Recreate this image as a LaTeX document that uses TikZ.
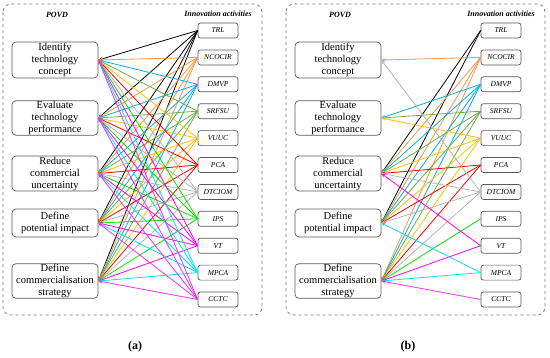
\documentclass[tikz,border=0pt]{standalone}
\usepackage{fontspec}
\setmainfont{Liberation Serif}
\usetikzlibrary{arrows.meta}
\definecolor{c-TRL}{RGB}{0,0,0}
\definecolor{c-NCOCIR}{RGB}{247,150,70}
\definecolor{c-DMVP}{RGB}{0,176,240}
\definecolor{c-SRFSU}{RGB}{112,173,71}
\definecolor{c-VUUC}{RGB}{255,192,0}
\definecolor{c-PCA}{RGB}{255,0,0}
\definecolor{c-DTCIOM}{RGB}{180,180,180}
\definecolor{c-IPS}{RGB}{0,230,0}
\definecolor{c-VT}{RGB}{255,0,255}
\definecolor{c-MPCA}{RGB}{0,230,240}
\definecolor{c-CCTC}{RGB}{240,50,240}
\definecolor{framegray}{RGB}{120,120,120}
\definecolor{boxgray}{RGB}{90,90,90}
\begin{document}
\begin{tikzpicture}[x=1pt,y=-1pt,
  frame/.style={draw=framegray,dashed,rounded corners=8pt,line width=0.7pt},
  povd/.style={draw=boxgray,rounded corners=4pt,line width=0.7pt,minimum width=86pt,align=center,
    font=\fontsize{10.5}{12}\selectfont,inner sep=0.5pt,fill=white},
  act/.style={draw=boxgray,rounded corners=2.5pt,line width=0.7pt,minimum width=40pt,minimum height=15pt,
    inner sep=0pt,font=\fontsize{7.5}{9}\selectfont\itshape,fill=white},
  hdr/.style={font=\fontsize{8}{9}\selectfont\bfseries\itshape},
  link/.style={line width=0.8pt,-{Stealth[length=4pt,width=3.5pt]}},
  captxt/.style={font=\fontsize{12}{14}\selectfont\bfseries}]
\useasboundingbox (0,0) rectangle (550,357);
\foreach \p/\dx in {a/0,b/283}{
  \draw[frame] ({3+\dx},4) rectangle ({262+\dx},315);
  \node[hdr] (\p-hl) at ({57+\dx},15) {POVD};
  \node[hdr] (\p-hr) at ({218+\dx},14) {Innovation activities};
  \node[povd,minimum height=36pt] (\p-id) at ({55+\dx},60) {Identify\\technology\\concept};
  \node[povd,minimum height=34pt] (\p-ev) at ({55+\dx},118) {Evaluate\\technology\\performance};
  \node[povd,minimum height=35pt] (\p-re) at ({55+\dx},173.5) {Reduce\\commercial\\uncertainty};
  \node[povd,minimum height=28pt] (\p-po) at ({55+\dx},223) {Define\\potential impact};
  \node[povd,minimum height=34pt] (\p-co) at ({55+\dx},281) {Define\\commercialisation\\strategy};
  \foreach \t [count=\i from 0] in {TRL,NCOCIR,DMVP,SRFSU,VUUC,PCA,DTCIOM,IPS,VT,MPCA,CCTC}
    \node[act] (\p-\t) at ({218+\dx},{30.5+26.9*\i}) {\t};
}
\node[captxt] (capa) at (135,347) {(a)};
\node[captxt] (capb) at (408,347) {(b)};
% panel (a): all links
\foreach \t in {TRL,NCOCIR,DMVP,SRFSU,VUUC,PCA,DTCIOM,IPS,VT,MPCA,CCTC}
  \foreach \s in {id,ev,re,po,co}
    \draw[link,color=c-\t] (a-\t.west) -- (a-\s.east);
% panel (b): selected links
\foreach \t/\L in {TRL/{re,po},NCOCIR/{id,re,po,co},DMVP/{ev,re,po,co},SRFSU/{ev,re,po,co},
  VUUC/{ev,re,po,co},PCA/{re,po,co},DTCIOM/{id,re,po,co},IPS/{co},VT/{re,co},MPCA/{po,co},CCTC/{co}}
  \foreach \s in \L
    \draw[link,color=c-\t] (b-\t.west) -- (b-\s.east);
\end{tikzpicture}
\end{document}
